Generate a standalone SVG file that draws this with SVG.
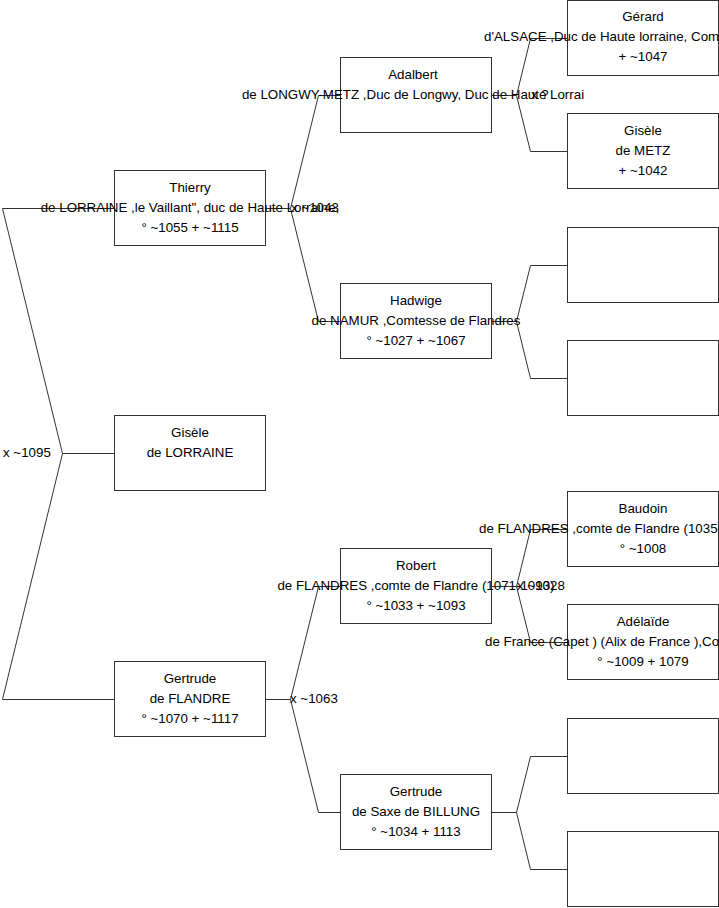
<svg xmlns="http://www.w3.org/2000/svg" width="719" height="908" viewBox="0 0 719 908">
<style>
.box{fill:#fff;stroke:#333;stroke-width:1}
.con{fill:none;stroke:#333;stroke-width:1}
text{font-family:"Liberation Sans",Arial,sans-serif;font-size:13.33px;fill:#000}
.c{text-anchor:middle}
</style>
<rect width="719" height="908" fill="#fff"/>
<g id="connectors">
<path class="con" d="M114.5,208.5 H2.5 L62.5,453.5 L2.5,699.5 H114.5 M62.5,453.5 H114.5"/>
<path class="con" d="M265.5,208.5 H290.5 M340.5,95.5 H318.5 L290.5,208.5 L318.5,321.5 H340.5"/>
<path class="con" d="M265.5,699.5 H290.5 M340.5,586.5 H318.5 L290.5,699.5 L318.5,812.5 H340.5"/>
<path class="con" d="M491.5,95.5 H516.5 M567.5,38.5 H530.5 L516.5,95.5 L530.5,151.5 H567.5"/>
<path class="con" d="M491.5,321.5 H516.5 M567.5,265.5 H530.5 L516.5,321.5 L530.5,378.5 H567.5"/>
<path class="con" d="M491.5,586.5 H516.5 M567.5,529.5 H530.5 L516.5,586.5 L530.5,642.5 H567.5"/>
<path class="con" d="M491.5,812.5 H516.5 M567.5,756.5 H530.5 L516.5,812.5 L530.5,869.5 H567.5"/>
<text x="3" y="457">x ~1095</text>
<text x="291" y="212">x ~1043</text>
<text x="290" y="703">x ~1063</text>
<text x="531" y="99">x ?</text>
<text x="517" y="590">x ~1028</text>
</g>
<g id="thierry">
<rect class="box" x="114.5" y="170.5" width="151" height="75"/>
<text class="c" x="190" y="192">Thierry</text>
<text class="c" x="190" y="212">de LORRAINE ,le Vaillant", duc de Haute Lorraine,</text>
<text class="c" x="190" y="232">° ~1055 + ~1115</text>
</g>
<g id="gisele-lorraine">
<rect class="box" x="114.5" y="415.5" width="151" height="75"/>
<text class="c" x="190" y="437">Gisèle</text>
<text class="c" x="190" y="457">de LORRAINE</text>
</g>
<g id="gertrude-flandre">
<rect class="box" x="114.5" y="661.5" width="151" height="75"/>
<text class="c" x="190" y="683">Gertrude</text>
<text class="c" x="190" y="703">de FLANDRE</text>
<text class="c" x="190" y="723">° ~1070 + ~1117</text>
</g>
<g id="adalbert">
<rect class="box" x="340.5" y="57.5" width="151" height="75"/>
<text class="c" x="413" y="79">Adalbert</text>
<text class="c" x="413" y="99">de LONGWY-METZ ,Duc de Longwy, Duc de Haute Lorrai</text>
</g>
<g id="hadwige">
<rect class="box" x="340.5" y="283.5" width="151" height="75"/>
<text class="c" x="416" y="305">Hadwige</text>
<text class="c" x="416" y="325">de NAMUR ,Comtesse de Flandres</text>
<text class="c" x="416" y="345">° ~1027 + ~1067</text>
</g>
<g id="robert">
<rect class="box" x="340.5" y="548.5" width="151" height="75"/>
<text class="c" x="416" y="570">Robert</text>
<text class="c" x="416" y="590">de FLANDRES ,comte de Flandre (1071-1093)</text>
<text class="c" x="416" y="610">° ~1033 + ~1093</text>
</g>
<g id="gertrude-saxe">
<rect class="box" x="340.5" y="774.5" width="151" height="75"/>
<text class="c" x="416" y="796">Gertrude</text>
<text class="c" x="416" y="816">de Saxe de BILLUNG</text>
<text class="c" x="416" y="836">° ~1034 + 1113</text>
</g>
<g id="gerard">
<rect class="box" x="567.5" y="0.5" width="151" height="75"/>
<text class="c" x="643" y="21">Gérard</text>
<text x="484" y="41">d'ALSACE ,Duc de Haute lorraine, Com</text>
<text class="c" x="643" y="61">+ ~1047</text>
</g>
<g id="gisele-metz">
<rect class="box" x="567.5" y="113.5" width="151" height="75"/>
<text class="c" x="643" y="135">Gisèle</text>
<text class="c" x="643" y="155">de METZ</text>
<text class="c" x="643" y="175">+ ~1042</text>
</g>
<g id="empty1"><rect class="box" x="567.5" y="227.5" width="151" height="75"/></g>
<g id="empty2"><rect class="box" x="567.5" y="340.5" width="151" height="75"/></g>
<g id="baudoin">
<rect class="box" x="567.5" y="491.5" width="151" height="75"/>
<text class="c" x="643" y="513">Baudoin</text>
<text x="479" y="533">de FLANDRES ,comte de Flandre (1035-</text>
<text class="c" x="643" y="553">° ~1008</text>
</g>
<g id="adelaide">
<rect class="box" x="567.5" y="604.5" width="151" height="75"/>
<text class="c" x="643" y="626">Adélaïde</text>
<text x="485" y="646">de France (Capet ) (Alix de France ),Co</text>
<text class="c" x="643" y="666">° ~1009 + 1079</text>
</g>
<g id="empty3"><rect class="box" x="567.5" y="718.5" width="151" height="75"/></g>
<g id="empty4"><rect class="box" x="567.5" y="831.5" width="151" height="75"/></g>
</svg>
